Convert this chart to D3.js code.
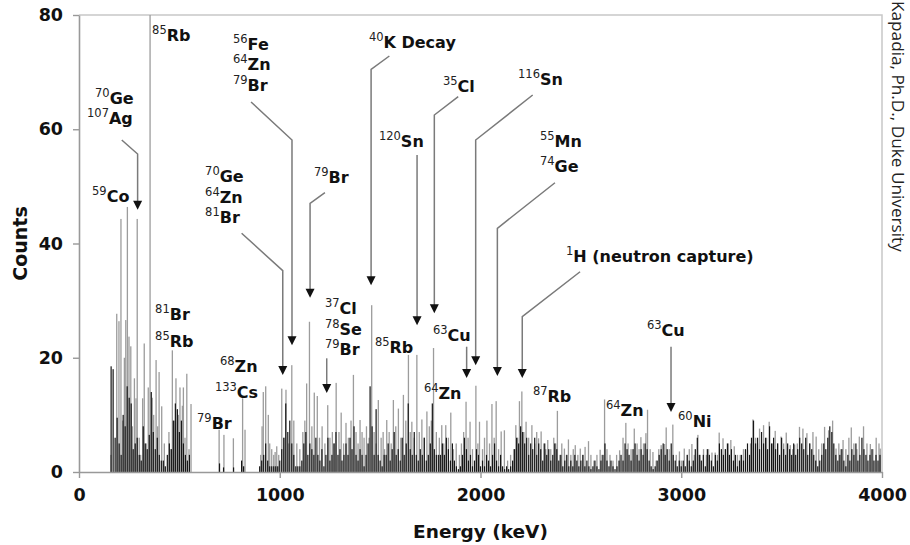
<!DOCTYPE html>
<html><head><meta charset="utf-8">
<script src="https://cdn.jsdelivr.net/npm/d3@7"></script>
<style>
html,body{margin:0;padding:0;background:#fff;}
svg{display:block;}
</style></head>
<body>
<svg id="chart" width="910" height="545"></svg>
<script>
// ---------- DATA ----------
const xTicks = [0, 1000, 2000, 3000, 4000];
const yTicks = [0, 20, 40, 60, 80];

// gray spectrum lines: [energy keV, counts]
const grayPeaks = [[159,3],[188,27.7],[199,26.4],[209,44.3],[218,9],[226,20],[233,26.6],[241,46.4],[249,23.7],[258,22],[266,8],[276,16.4],[284,12.9],[290,44.3],[300,6],[307,3],[317,12.9],[325,22.5],[335,5],[345,14.8],[354,80],[365,13],[372,10],[384,19.6],[392,8],[399,17.5],[412,11.5],[425,5],[448,7],[458,4],[465,21.3],[475,9],[483,16.4],[495,10],[503,14.8],[515,11.6],[520,14.8],[528,6],[537,17.2],[548,4],[558,11.9],[698,7.4],[722,6.5],[769,5.9],[815,12.9],[827,7.4],[905,3],[912,8],[918,14],[930,15],[943,10],[950,5],[960,4],[970,3],[977,3.5],[985,4.5],[995,3],[1010,14.6],[1022,6],[1031,14.4],[1045,5],[1060,18.7],[1070,9],[1085,5],[1100,4],[1115,7],[1125,9],[1134,15.5],[1148,26.3],[1160,8],[1172,13.9],[1187,13.3],[1198,6],[1211,8],[1225,5],[1239,11.7],[1250,6],[1262,7],[1272,5],[1281,15.6],[1295,7],[1306,10.4],[1318,5],[1330,8.6],[1342,6],[1355,9],[1367,17],[1380,7],[1390,5],[1400,9.1],[1410,7],[1420,6],[1432,8],[1445,6],[1458,29.2],[1470,7],[1480,5],[1491,12.6],[1505,6],[1515,7],[1522,4],[1533,9.1],[1545,7],[1555,5],[1566,12.6],[1578,8],[1591,11.1],[1603,6],[1616,13.5],[1628,9],[1641,20.5],[1650,7],[1658,8.8],[1670,6],[1683,20.5],[1695,7],[1708,9.2],[1720,6],[1733,10.6],[1745,8],[1755,9],[1766,21.7],[1780,7],[1795,6],[1807,8.2],[1817,5],[1827,8.2],[1840,6],[1852,10.4],[1865,4],[1879,5],[1895,3],[1905,5],[1916,7],[1928,12.3],[1938,6],[1948,8.8],[1960,4],[1977,15.1],[1987,5],[1995,8.8],[2010,4],[2020,6],[2032,9],[2045,5],[2057,11.9],[2068,6],[2078,12.4],[2090,4],[2103,7.1],[2119,7.3],[2135,2],[2150,3],[2165,4],[2176,8.2],[2185,6],[2194,12.4],[2206,14.1],[2216,7],[2227,8.8],[2240,6],[2256,8.2],[2270,5],[2280,7],[2289,5.9],[2302,7.1],[2315,5],[2325,4],[2335,5.6],[2350,4],[2365,6],[2375,5],[2383,10.7],[2395,3],[2405,5],[2418,4.1],[2428,3],[2438,5.7],[2450,3],[2462,4],[2472,4.7],[2485,3],[2497,4.1],[2510,3],[2521,4.4],[2538,5.4],[2550,3],[2565,2],[2580,3],[2596,3.9],[2605,3],[2618,12.7],[2630,4],[2645,3],[2660,2],[2678,3],[2693,3.8],[2710,6],[2724,8.6],[2735,5],[2750,4],[2766,7.6],[2780,5],[2790,4],[2799,6.1],[2812,5],[2824,6.8],[2832,10.9],[2845,4],[2859,3.5],[2875,2],[2888,4],[2900,4.7],[2917,4.9],[2925,7.8],[2940,4],[2958,8.3],[2975,3],[2991,3.6],[3000,2],[3015,4.1],[3030,3],[3040,4],[3053,4.9],[3065,3],[3083,6.5],[3095,3],[3111,4],[3125,3],[3136,4],[3153,3.4],[3169,3.4],[3180,3],[3189,6.9],[3208,5.9],[3220,4],[3235,5],[3247,5.6],[3264,4.5],[3280,3],[3294,3],[3310,4],[3330,3.9],[3345,5],[3357,9.2],[3370,6],[3380,5],[3390,7.6],[3410,8.2],[3425,6],[3438,8.8],[3455,5],[3468,7.2],[3480,5],[3497,6.2],[3510,5],[3523,6.9],[3543,4.7],[3555,4],[3565,4.8],[3578,5],[3589,7.9],[3606,7.6],[3626,6.8],[3640,5],[3656,7],[3672,6.2],[3685,4],[3700,5],[3714,7.9],[3734,7.3],[3754,9],[3771,4.1],[3785,5],[3795,4],[3806,5.6],[3820,4],[3835,6],[3847,7.8],[3860,5],[3875,4],[3887,6.2],[3908,8],[3925,5],[3942,4.9],[3955,4],[3971,6],[3985,5],[3991,4.1]];

// black spectrum: counts in 10 keV channels starting at 160 keV
const blackStart = 160, blackStep = 10;
const blackCounts = [
18.5,18,6,9.5,5,3,10,8,15,13,12,4,5,6,3,2,8,5,4,6.5,14,7,4,6,3,2,2,1,3,5,4,9,12,11,7,9,5,3,2,3,
0,0,0,0,0,0,0,0,0,0,0,0,0,0,1.5,0,0.8,0,0,0,0,0.8,0,0,0,2,1,0,0,0,0,0,0,0,
1,2,3,5,2,1,1,1,1,1,2,4,6,12,7,9,5,3,1,1,1,2,5,7,3,5,4,3,6,3,
2,4,1,3,6,2,3,5,7,3,4,2,3,5,3,6,4,8,3,2,4,3,1,3,5,15,8,3,11,3,
2,1,3,3,5,2,4,7,3,4,2,6,3,5,12,4,3,7,3,2,4,3,6,2,3,5,12,4,3,3,
3,5,3,6,4,2,5,2,1,0.5,1,3,6,4,2,3,1,2,4,3,1,2,1,3,2,1,3,5,2,1,
3,1,0.5,1,0.5,1,2,4,6,5,8,7,5,6,3,5,4,6,3,5,4,2,5,3,4,2,3,5,4,2,
3,1,2,3,1,2,1,3,2,1,2,3,1,2,1,0.5,1,2,1,0.5,2,3,5,2,1,2,1,0.5,1,2,
3,2,5,4,3,2,4,5,3,2,4,3,5,4,2,1,0.5,1,2,3,4,5,3,4,2,5,3,2,1,2,
1,2,1,3,2,1,2,4,6,3,2,3,1,4,3,2,1,3,2,5,4,3,4,5,3,4,2,3,1,2,
3,2,4,5,3,6,9,5,6,4,7,5,6,4,8,5,6,4,5,3,6,4,3,5,4,3,5,3,4,6,
5,4,6,3,5,4,3,2,1,2,3,5,4,6,8,7,5,3,2,3,4,2,1,3,2,4,3,5,2,3,6,4,3,2,3,4,2,3,2,3
];

// annotation labels: superscript, symbol, anchor (energy, counts) of baseline start
const labelSup = ["85","56","64","79","70","107","59","70","64","81","79","40","35","116","120","55","74","1","63","37","78","79","85","81","85","68","133","79","64","87","64","63","60"];
const labelSym = ["Rb","Fe","Zn","Br","Ge","Ag","Co","Ge","Zn","Br","Br","K Decay","Cl","Sn","Sn","Mn","Ge","H (neutron capture)","Cu","Cl","Se","Br","Rb","Br","Rb","Zn","Cs","Br","Zn","Rb","Zn","Cu","Ni"];
const labelE = [364,767,767,767,80,40,65,628,628,628,1170,1444,1813,2187,1494,2296,2296,2426,1763,1225,1225,1225,1474,379,379,702,677,588,1718,2261,2625,2829,2984];
const labelC = [75.45,73.87,70.37,66.69,64.42,60.92,47.26,50.76,47.09,43.59,50.59,74.22,66.52,67.74,56.89,56.89,52.52,36.76,22.93,27.66,23.98,20.48,20.83,26.61,21.88,17.5,12.95,7.53,12.78,12.25,9.80,23.81,7.88];

// arrows: polyline vertices in (energy, counts); last vertex is the tip
const arrows = [
  [[857,64.77],[1061,58.12],[1061,22.2]],
  [[213,58.12],[292,55.67],[292,45.9]],
  [[810,41.79],[1015,35.24],[1015,17.0]],
  [[1225,48.89],[1151,47.04],[1151,30.5]],
  [[1546,72.82],[1455,70.49],[1455,32.7]],
  [[1889,65.70],[1770,62.49],[1770,27.8]],
  [[2260,65.99],[1976,58.12],[1976,18.7]],
  [[1684,55.49],[1684,25.7]],
  [[2371,50.64],[2084,42.66],[2084,16.8]],
  [[2496,35.06],[2208,27.19],[2208,16.45]],
  [[1931,21.93],[1931,16.45]],
  [[1234,19.90],[1234,13.83]],
  [[2949,21.93],[2949,10.5]]
];

// ---------- CHART ----------
const svg = d3.select("#chart");
const x = d3.scaleLinear().domain([0, 4000]).range([79, 882]);
const y = d3.scaleLinear().domain([0, 80]).range([472, 15]);
const clampC = c => Math.min(c, 80);

// frame (top & right)
svg.append("path")
  .attr("d", `M${x(0)},${y(80)}H${x(4000)}V${y(0)}`)
  .attr("fill", "none").attr("stroke", "#c8c8c8").attr("stroke-width", 1.5);

// gray lines
svg.append("g").selectAll("rect").data(grayPeaks).join("rect")
  .attr("x", d => x(d[0]) - 0.65).attr("width", 1.3)
  .attr("y", d => y(clampC(d[1]))).attr("height", d => y(0) - y(clampC(d[1])))
  .attr("fill", "#9c9c9c");

// black lines
const blackData = blackCounts.map((c, i) => [blackStart + i * blackStep, c]).filter(d => d[1] > 0);
svg.append("g").selectAll("rect").data(blackData).join("rect")
  .attr("x", d => x(d[0]) - 0.6).attr("width", 1.2)
  .attr("y", d => y(d[1])).attr("height", d => y(0) - y(d[1]))
  .attr("fill", "#161616");

// axes
const fontTick = "'DejaVu Sans', Verdana, sans-serif";
const gx = svg.append("g").attr("transform", `translate(0,${y(0)})`)
  .call(d3.axisBottom(x).tickValues(xTicks).tickFormat(d3.format("d"))
    .tickSize(6).tickPadding(11).tickSizeOuter(0));
const gy = svg.append("g").attr("transform", `translate(${x(0)},0)`)
  .call(d3.axisLeft(y).tickValues(yTicks).tickFormat(d3.format("d"))
    .tickSize(6).tickPadding(10).tickSizeOuter(0));
[gx, gy].forEach(g => {
  g.select(".domain").attr("stroke", "#999").attr("stroke-width", 1.6);
  g.selectAll(".tick line").attr("stroke", "#999").attr("stroke-width", 1.4);
  g.selectAll(".tick text").attr("fill", "#111").attr("font-family", fontTick)
    .attr("font-weight", "bold").attr("font-size", 17.5);
});

// axis titles
svg.append("text").attr("x", (x(0) + x(4000)) / 2).attr("y", 538)
  .attr("text-anchor", "middle").attr("font-family", fontTick).attr("font-weight", "bold")
  .attr("font-size", 18.5).attr("fill", "#111").text("Energy (keV)");
svg.append("text").attr("transform", `translate(27,${(y(0) + y(80)) / 2}) rotate(-90)`)
  .attr("text-anchor", "middle").attr("font-family", fontTick).attr("font-weight", "bold")
  .attr("font-size", 19).attr("fill", "#111").text("Counts");

// credit
svg.append("text").attr("transform", "translate(906,1) rotate(90)")
  .attr("font-family", "'Open Sans', sans-serif").attr("font-size", 17.2).attr("fill", "#222")
  .attr("dominant-baseline", "hanging").text("Kapadia, Ph.D., Duke University");

// arrows
const line = d3.line().x(d => x(d[0])).y(d => y(d[1]));
const ag = svg.append("g");
arrows.forEach(a => {
  const tip = a[a.length - 1];
  const shortened = a.slice(0, -1).concat([[tip[0], tip[1] + 8 / 5.7125]]);
  ag.append("path").attr("d", line(shortened)).attr("fill", "none")
    .attr("stroke", "#7a7a7a").attr("stroke-width", 1.5);
  const tx = x(tip[0]), ty = y(tip[1]);
  ag.append("path").attr("d", `M${tx - 4.5},${ty - 9}L${tx + 4.5},${ty - 9}L${tx},${ty}Z`).attr("fill", "#111");
});

// labels
const lg = svg.append("g").attr("font-family", fontTick).attr("fill", "#111");
labelSym.forEach((s, i) => {
  const t = lg.append("text").attr("x", x(labelE[i])).attr("y", y(labelC[i]));
  t.append("tspan").attr("font-size", 11.5).attr("dy", -7).attr("fill", "#222").text(labelSup[i]);
  t.append("tspan").attr("font-size", 16).attr("font-weight", "bold").attr("dy", 7).text(s);
});
</script>
</body></html>
